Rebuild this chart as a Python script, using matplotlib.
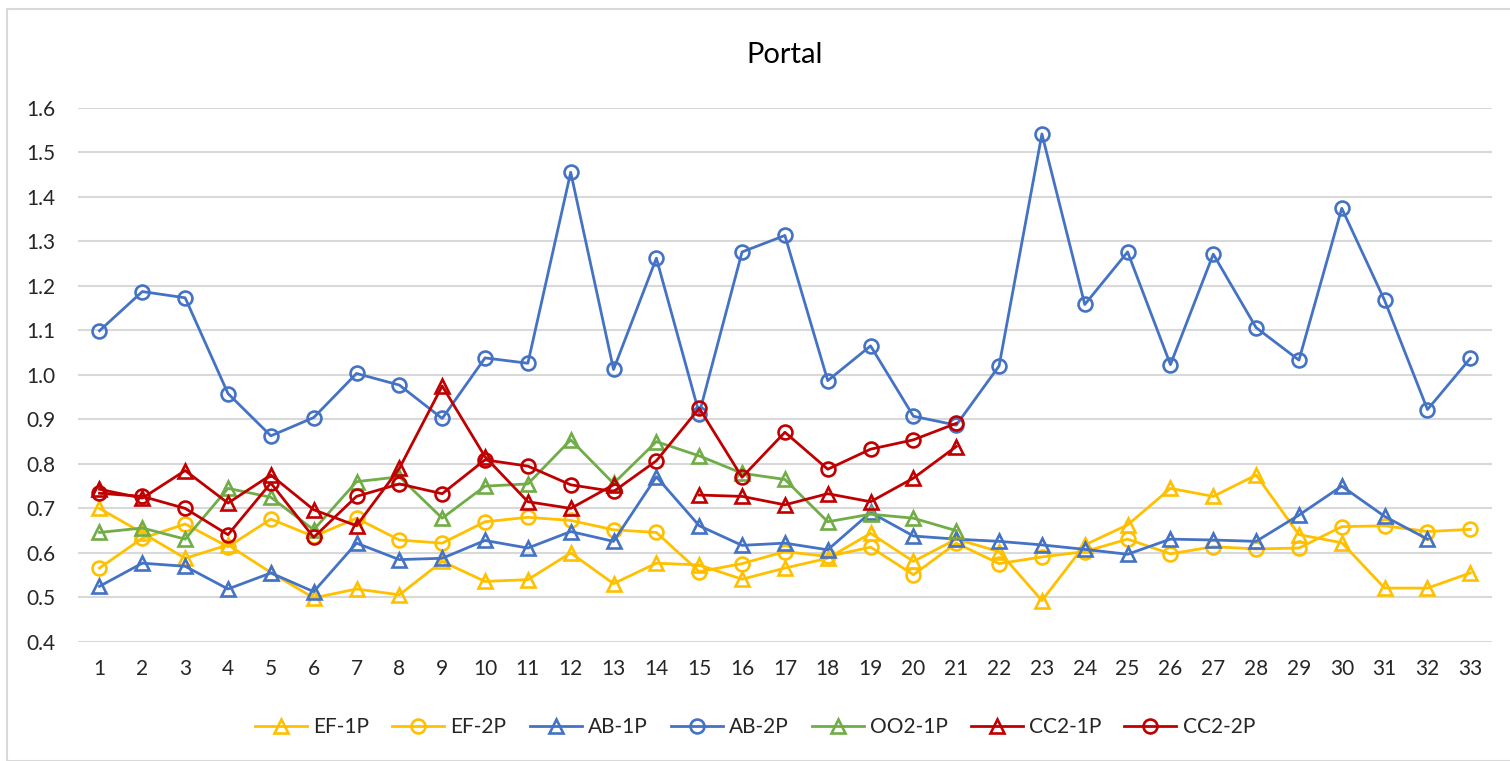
import matplotlib
matplotlib.use('Agg')
import matplotlib.pyplot as plt
import numpy as np
from matplotlib.patches import Rectangle

nan = np.nan

# x categories 1..33
runs = list(range(1, 34))

ef_1p = [0.700, 0.645, 0.588, 0.618, 0.556, 0.499, 0.519, 0.506, 0.581, 0.536,
         0.540, 0.600, 0.531, 0.577, 0.573, 0.541, 0.566, 0.588, 0.644, 0.581,
         0.631, 0.603, 0.493, 0.618, 0.663, 0.745, 0.727, 0.775, 0.641, 0.623,
         0.521, 0.521, 0.555]
ef_2p = [0.566, 0.633, 0.665, 0.614, 0.676, 0.637, 0.678, 0.629, 0.622, 0.670,
         0.680, 0.673, 0.652, 0.646, 0.558, 0.576, 0.603, 0.592, 0.613, 0.551,
         0.622, 0.576, 0.591, 0.603, 0.631, 0.598, 0.614, 0.609, 0.611, 0.659,
         0.661, 0.648, 0.653]
ab_1p = [0.525, 0.577, 0.570, 0.519, 0.555, 0.513, 0.622, 0.585, 0.588, 0.628,
         0.611, 0.648, 0.626, 0.771, 0.661, 0.617, 0.622, 0.607, 0.691, 0.638,
         0.631, 0.626, 0.618, 0.608, 0.597, 0.631, 0.629, 0.626, 0.685, 0.750,
         0.682, 0.631, nan]
ab_2p = [1.099, 1.187, 1.173, 0.958, 0.863, 0.904, 1.003, 0.977, 0.902, 1.038,
         1.026, 1.455, 1.012, 1.262, 0.913, 1.276, 1.313, 0.987, 1.065, 0.907,
         0.887, 1.020, 1.541, 1.158, 1.276, 1.023, 1.271, 1.106, 1.033, 1.374,
         1.167, 0.922, 1.037]
oo2_1p = [0.646, 0.656, 0.631, 0.745, 0.725, 0.652, 0.760, 0.771, 0.678, 0.750,
          0.755, 0.854, 0.756, 0.850, 0.818, 0.779, 0.765, 0.670, 0.687, 0.678,
          0.650] + [nan] * 12
cc2_1p = [0.743, 0.723, 0.785, 0.712, 0.775, 0.697, 0.661, 0.790, 0.975, 0.816,
          0.715, 0.700, 0.753, nan, 0.730, 0.727, 0.708, 0.733, 0.715, 0.768,
          0.839] + [nan] * 12
cc2_2p = [0.734, 0.727, 0.700, 0.641, 0.757, 0.635, 0.727, 0.755, 0.733, 0.809,
          0.795, 0.753, 0.738, 0.807, 0.925, 0.770, 0.871, 0.788, 0.833, 0.854,
          0.891] + [nan] * 12

series = [
    ('EF-1P', ef_1p, '#FFC000', '^'),
    ('EF-2P', ef_2p, '#FFC000', 'o'),
    ('AB-1P', ab_1p, '#4472C4', '^'),
    ('AB-2P', ab_2p, '#4472C4', 'o'),
    ('OO2-1P', oo2_1p, '#70AD47', '^'),
    ('CC2-1P', cc2_1p, '#C00000', '^'),
    ('CC2-2P', cc2_2p, '#C00000', 'o'),
]

plt.rcParams['font.family'] = ['Lato', 'DejaVu Sans']

fig = plt.figure(figsize=(15.1, 7.61), dpi=100)
ax = fig.add_axes([0.0517, 0.1564, 0.9362, 0.7021])

# chart border like the spreadsheet chart area
fig.patches.append(Rectangle((7 / 1510, 0), 1.0, 1 - 9 / 761,
                             transform=fig.transFigure, fill=False,
                             edgecolor='#D9D9D9', linewidth=1.5))

for name, vals, color, marker in series:
    ax.plot(runs, vals, color=color, marker=marker, markersize=10,
            markerfacecolor='none', markeredgewidth=1.9, linewidth=2.0,
            label=name)

ax.set_xlim(0.5, 33.5)
ax.set_ylim(0.4, 1.6)
ax.set_yticks(np.arange(0.4, 1.61, 0.1))
ax.set_yticklabels([f'{v:.1f}' for v in np.arange(0.4, 1.61, 0.1)])
ax.set_xticks(runs)
ax.tick_params(axis='both', length=0, labelsize=15, colors='#262626', pad=12)
ax.tick_params(axis='y', pad=16)
ax.grid(axis='y', color='#D9D9D9', linewidth=1.5)
ax.set_axisbelow(True)
for sp in ax.spines.values():
    sp.set_visible(False)

ax.set_title('Portal', fontsize=21, color='#000000', pad=32)

fig.legend(loc='center', bbox_to_anchor=(0.5, 1 - 727 / 761), ncol=7,
           frameon=False, fontsize=15, handlelength=2.5, columnspacing=1.1,
           handletextpad=0.3, labelcolor='#262626')

fig.savefig('out.png', dpi=100)
